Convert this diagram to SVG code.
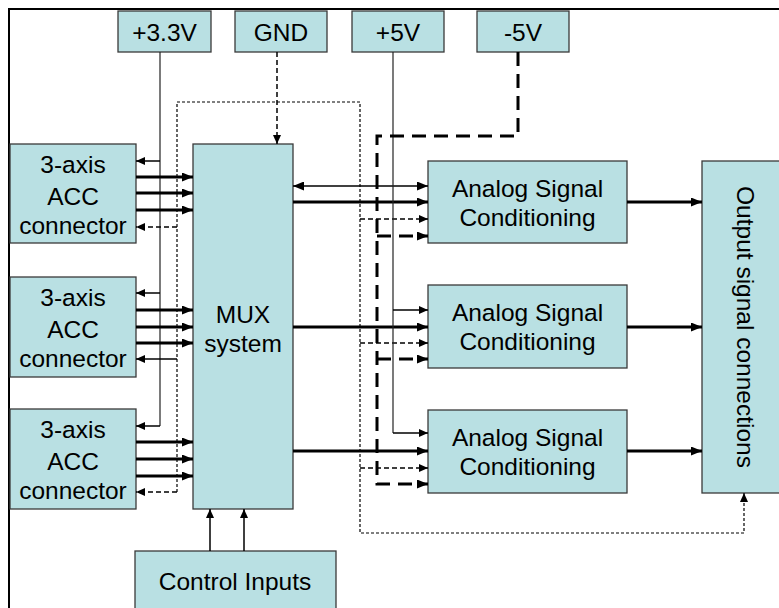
<svg xmlns="http://www.w3.org/2000/svg" width="779" height="608" viewBox="0 0 779 608">
<style>
.box{fill:#b9e0e3;stroke:#3a3a3a;stroke-width:1.3}
.t{font-family:"Liberation Sans",Arial,sans-serif;font-size:24.5px;fill:#000;text-anchor:middle}
.thin{fill:none;stroke:#222;stroke-width:1.2}
.a1{fill:none;stroke:#000;stroke-width:1.5}
.a3{fill:none;stroke:#000;stroke-width:3}
.dsh{fill:none;stroke:#000;stroke-width:1.5;stroke-dasharray:5,3}
.dot{fill:none;stroke:#000;stroke-width:1.2;stroke-dasharray:3,2}
.big{fill:none;stroke:#000;stroke-width:3;stroke-dasharray:14,8}
</style>
<defs>
<marker id="ah" markerUnits="userSpaceOnUse" markerWidth="11" markerHeight="9" refX="11" refY="4.5" orient="auto-start-reverse"><path d="M0,0 L11,4.5 L0,9 z" fill="#000"/></marker>
<marker id="as" markerUnits="userSpaceOnUse" markerWidth="9" markerHeight="8" refX="9" refY="4" orient="auto-start-reverse"><path d="M0,0 L9,4 L0,8 z" fill="#000"/></marker>
</defs>
<rect x="0" y="0" width="779" height="608" fill="#fff"/>
<path d="M9,608 V9 H779" fill="none" stroke="#000" stroke-width="2"/>

<g id="p33"><rect class="box" x="118" y="11" width="93" height="41"/><text class="t" x="164.5" y="41">+3.3V</text></g>
<g id="gnd"><rect class="box" x="235" y="11" width="92" height="41"/><text class="t" x="281" y="41">GND</text></g>
<g id="p5"><rect class="box" x="352" y="11" width="92" height="41"/><text class="t" x="398" y="41">+5V</text></g>
<g id="m5"><rect class="box" x="477" y="11" width="92" height="41"/><text class="t" x="523" y="41">-5V</text></g>

<g id="acc1"><rect class="box" x="10" y="144" width="126" height="99"/><text class="t" x="73" y="173">3-axis</text><text class="t" x="73" y="205">ACC</text><text class="t" x="73" y="234">connector</text></g>
<g id="acc2"><rect class="box" x="10" y="277" width="126" height="100"/><text class="t" x="73" y="306">3-axis</text><text class="t" x="73" y="338">ACC</text><text class="t" x="73" y="367">connector</text></g>
<g id="acc3"><rect class="box" x="10" y="409" width="126" height="100"/><text class="t" x="73" y="438">3-axis</text><text class="t" x="73" y="470">ACC</text><text class="t" x="73" y="499">connector</text></g>

<g id="mux"><rect class="box" x="193" y="144" width="100" height="365"/><text class="t" x="243" y="323">MUX</text><text class="t" x="243" y="352">system</text></g>

<g id="asc1"><rect class="box" x="428" y="161" width="199" height="82"/><text class="t" x="527.5" y="197">Analog Signal</text><text class="t" x="527.5" y="226">Conditioning</text></g>
<g id="asc2"><rect class="box" x="428" y="285" width="199" height="83"/><text class="t" x="527.5" y="321">Analog Signal</text><text class="t" x="527.5" y="350">Conditioning</text></g>
<g id="asc3"><rect class="box" x="428" y="410" width="199" height="83"/><text class="t" x="527.5" y="446">Analog Signal</text><text class="t" x="527.5" y="475">Conditioning</text></g>

<g id="out"><rect class="box" x="702" y="161" width="80" height="332"/><text class="t" transform="translate(737,327) rotate(90)" x="0" y="0">Output signal connections</text></g>

<g id="ctrl"><rect class="box" x="135" y="551" width="201" height="60"/><text class="t" x="235" y="590">Control Inputs</text></g>

<g id="connectors">
<path class="thin" d="M160,52 V426"/>
<path class="a1" d="M160,161 H136" marker-end="url(#as)"/>
<path class="a1" d="M160,293 H136" marker-end="url(#as)"/>
<path class="a1" d="M160,426 H136" marker-end="url(#as)"/>
<path class="dsh" d="M277,52 V144" marker-end="url(#as)"/>
<path class="dot" d="M177,492 V102 H360 V533 H744 V493" marker-end="url(#as)"/>
<path class="dsh" d="M177,227 H136" marker-end="url(#as)"/>
<path class="a1" d="M177,359 H136" marker-end="url(#as)"/>
<path class="dsh" d="M177,492 H136" marker-end="url(#as)"/>
<path class="dsh" d="M360,219 H428" marker-end="url(#as)"/>
<path class="dsh" d="M360,343 H428" marker-end="url(#as)"/>
<path class="dsh" d="M360,468 H428" marker-end="url(#as)"/>
<path class="a3" d="M136,177 H193" marker-end="url(#ah)"/>
<path class="a3" d="M136,193 H193" marker-end="url(#ah)"/>
<path class="a3" d="M136,210 H193" marker-end="url(#ah)"/>
<path class="a3" d="M136,310 H193" marker-end="url(#ah)"/>
<path class="a3" d="M136,327 H193" marker-end="url(#ah)"/>
<path class="a3" d="M136,343 H193" marker-end="url(#ah)"/>
<path class="a3" d="M136,442 H193" marker-end="url(#ah)"/>
<path class="a3" d="M136,459 H193" marker-end="url(#ah)"/>
<path class="a3" d="M136,476 H193" marker-end="url(#ah)"/>
<path class="a1" d="M293,186 H428" marker-start="url(#ah)" marker-end="url(#ah)"/>
<path class="a3" d="M293,202 H428" marker-end="url(#ah)"/>
<path class="a3" d="M293,327 H428" marker-end="url(#ah)"/>
<path class="a3" d="M293,451 H428" marker-end="url(#ah)"/>
<path class="thin" d="M393,52 V433"/>
<path class="a1" d="M393,310 H428" marker-end="url(#as)"/>
<path class="a1" d="M393,433 H428" marker-end="url(#as)"/>
<path class="big" d="M518,52 V136 H377 V484 H428" marker-end="url(#ah)"/>
<path class="big" d="M377,236 H428" marker-end="url(#ah)"/>
<path class="big" d="M377,359 H428" marker-end="url(#ah)"/>
<path class="a3" d="M627,202 H702" marker-end="url(#ah)"/>
<path class="a3" d="M627,327 H702" marker-end="url(#ah)"/>
<path class="a3" d="M627,451 H702" marker-end="url(#ah)"/>
<path class="a1" d="M210,551 V509" marker-end="url(#as)"/>
<path class="a1" d="M244,551 V509" marker-end="url(#as)"/>
</g>
</svg>
